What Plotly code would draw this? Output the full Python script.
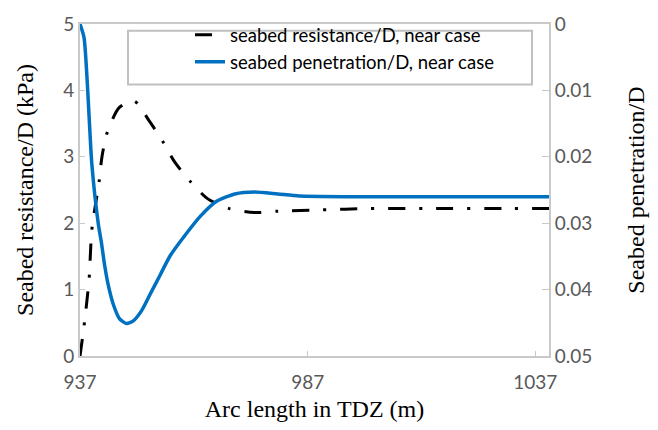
import plotly.graph_objects as go

# Seabed resistance/D (kPa) along the touchdown zone, near case
res_x = [937.0, 937.9, 939.0, 939.6, 941.2, 941.8, 942.9, 945.6, 948.9, 952.2,
         955.1, 957.7, 961.2, 965.0, 969.8, 975.3, 980.4, 990.0, 1000.0,
         1015.0, 1030.0, 1040.0]
res_y = [0.0, 0.46, 1.16, 1.90, 2.63, 2.99, 3.35, 3.74, 3.84, 3.54,
         3.24, 2.93, 2.63, 2.37, 2.22, 2.16, 2.18, 2.20, 2.22,
         2.22, 2.22, 2.22]

# Seabed penetration/D along the touchdown zone, near case
pen_x = [937.0, 937.9, 939.6, 941.0, 941.7, 942.4, 943.2, 944.3, 945.7, 947.2, 948.7,
         950.5, 952.4, 954.6, 956.8, 960.2, 963.5, 967.0, 971.0, 975.3, 980.4, 985.2,
         995.0, 1010.0, 1025.0, 1040.0]
pen_y = [0.0, 0.0021, 0.0211, 0.0300, 0.0329, 0.0363, 0.0393, 0.0422, 0.0444, 0.0451, 0.0447,
         0.0432, 0.0407, 0.0378, 0.0349, 0.0317, 0.0289, 0.0267, 0.0256, 0.0253, 0.0256, 0.0259,
         0.0260, 0.0260, 0.0260, 0.0260]

x_ticks = [937, 987, 1037]

tick_font = dict(family="Lato, Carlito, sans-serif", size=19, color="#595959")
title_font = dict(family="Liberation Serif, Times New Roman, serif", size=24, color="#000000")
axis_grey = "#c9c9c9"

fig = go.Figure()
fig.add_trace(go.Scatter(
    x=res_x, y=res_y, mode="lines", name="seabed resistance/D, near case",
    line=dict(color="#000000", width=3, dash="17px,14px,3px,14px", shape="spline", smoothing=0.7),
))
fig.add_trace(go.Scatter(
    x=pen_x, y=pen_y, mode="lines", name="seabed penetration/D, near case", yaxis="y2",
    line=dict(color="#0070c0", width=3.5, shape="spline", smoothing=0.6),
))

# Legend frame
fig.add_shape(
    type="rect", xref="paper", yref="paper",
    x0=(128 - 80) / 469, x1=(532 - 80) / 469,
    y0=1 - (78 - 16) / 340, y1=1 - (23 - 16) / 340,
    line=dict(color="#c0c0c0", width=2), fillcolor="white", layer="below",
)

fig.update_layout(
    width=658, height=430,
    margin=dict(l=80, r=109, t=16, b=74),
    paper_bgcolor="white", plot_bgcolor="rgba(0,0,0,0)",
    showlegend=True,
    legend=dict(
        x=(190 - 80) / 469, y=1 - (8 - 16) / 340, xanchor="left", yanchor="top",
        borderwidth=0, bgcolor="rgba(0,0,0,0)",
        font=dict(family="Lato, Carlito, sans-serif", size=18.5, color="#000000"),
        tracegroupgap=0,
    ),
    xaxis=dict(
        range=[937, 1040], tickvals=x_ticks, ticktext=[str(v) for v in x_ticks],
        showgrid=False, zeroline=False, showline=True, linecolor=axis_grey, linewidth=2,
        mirror=True, ticks="inside", ticklen=5, tickcolor=axis_grey,
        tickfont=tick_font, ticklabelstandoff=8,
        title=dict(text="Arc length in TDZ (m)", font=title_font, standoff=8),
    ),
    yaxis=dict(
        range=[0, 5], dtick=1, showgrid=False, zeroline=False,
        showline=True, linecolor=axis_grey, linewidth=2,
        ticks="inside", ticklen=5, tickcolor=axis_grey, tickfont=tick_font,
        title=dict(text="Seabed resistance/D (kPa)", font=title_font, standoff=23),
    ),
    yaxis2=dict(
        range=[0.05, 0], dtick=0.01, overlaying="y", side="right",
        showgrid=False, zeroline=False, showline=True, linecolor=axis_grey, linewidth=2,
        ticks="inside", ticklen=7, tickcolor=axis_grey, tickfont=tick_font,
        title=dict(text="Seabed penetration/D", font=title_font, standoff=36),
    ),
)

fig.write_html("out.html")
